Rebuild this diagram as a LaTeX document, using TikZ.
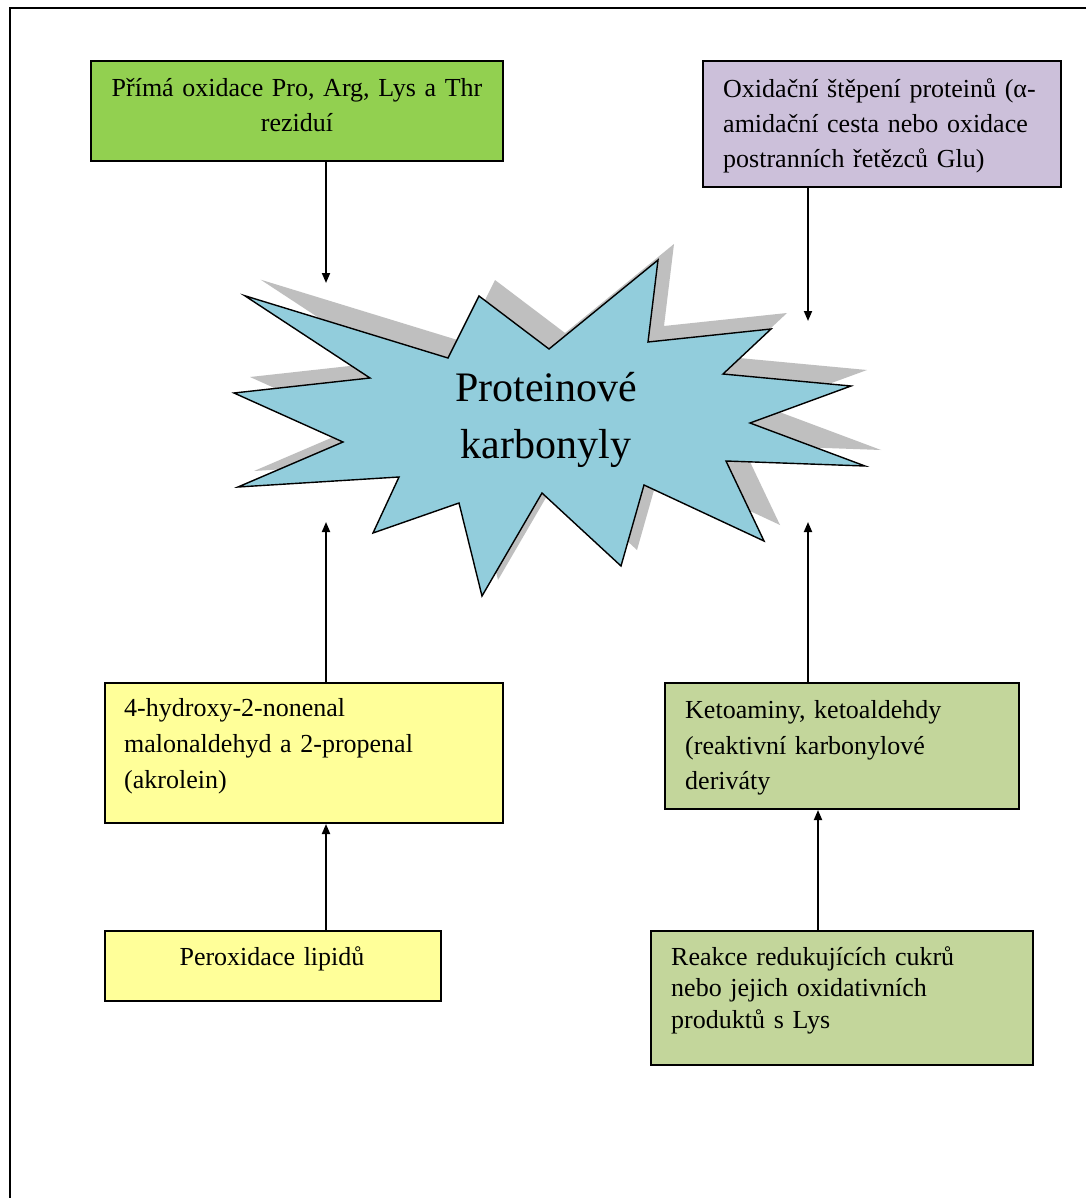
\documentclass[tikz,border=0pt]{standalone}
\usepackage{fontspec}
\setmainfont{Liberation Serif}
\usetikzlibrary{arrows.meta}
\definecolor{cA}{HTML}{92D050}
\definecolor{cB}{HTML}{CCC0DA}
\definecolor{cY}{HTML}{FFFF99}
\definecolor{cG}{HTML}{C3D69B}
\definecolor{cStar}{HTML}{92CDDC}
\definecolor{cShadow}{HTML}{BFBFBF}
\begin{document}
\begin{tikzpicture}[x=1pt,y=-1pt,
  box/.style={draw=black, line width=2pt, inner sep=0pt, anchor=north west},
  txt/.style={inner sep=0pt, font=\fontsize{26}{35}\selectfont},
  arr/.style={line width=1.8pt, -{Triangle[length=10pt,width=8pt]}},
  starpath/.style={line width=1.4pt}
]
\useasboundingbox (0,0) rectangle (1086,1198);
\fill[white] (0,0) rectangle (1086,1198);
% frame
\draw[line width=2pt] (1086,8) -- (10,8) -- (10,1198);

% star shadow and star
\def\starshape{(244.7,295.7) -- (448,358) -- (479,296) -- (549,349) -- (658,260) -- (648,342) -- (771,329) -- (723,374) -- (851,386) -- (750,423) -- (865,466) -- (726,461) -- (764,541) -- (644,485) -- (621,566) -- (542,493) -- (482,596) -- (459,503) -- (373,533) -- (399,477) -- (238,487) -- (343,442) -- (234,393) -- (370,378) -- cycle}
\fill[cShadow, shift={(16,-16)}] \starshape;
\filldraw[fill=cStar, draw=black, starpath, line join=miter] \starshape;
\node[inner sep=0pt, font=\fontsize{42}{57}\selectfont, align=center, text width=320pt, anchor=north] (startxt) at (546,361) {\strut Proteinové\\karbonyly};

% boxes
\node[box, fill=cA, minimum width=412pt, minimum height=100pt] (boxA) at (90,60) {};
\node[box, fill=cB, minimum width=358pt, minimum height=126pt] (boxB) at (702,60) {};
\node[box, fill=cY, minimum width=398pt, minimum height=140pt] (boxC) at (104,682) {};
\node[box, fill=cG, minimum width=354pt, minimum height=126pt] (boxD) at (664,682) {};
\node[box, fill=cY, minimum width=336pt, minimum height=70pt] (boxE) at (104,930) {};
\node[box, fill=cG, minimum width=382pt, minimum height=134pt] (boxF) at (650,930) {};

% texts
\node[txt, text width=400pt, align=center, anchor=north] (tA) at (297,71.5) {\strut Přímá oxidace Pro, Arg, Lys a Thr\\reziduí};
\node[txt, text width=330pt, align=left, anchor=north west] (tB) at (723,72.8) {\strut Oxidační štěpení proteinů (α-\\amidační cesta nebo oxidace\\postranních řetězců Glu)};
\node[txt, font=\fontsize{26}{36}\selectfont, text width=370pt, align=left, anchor=north west] (tC) at (124,691.5) {\strut 4-hydroxy-2-nonenal\\malonaldehyd a 2-propenal\\(akrolein)};
\node[txt, font=\fontsize{26}{35.5}\selectfont, text width=325pt, align=left, anchor=north west] (tD) at (685,693.5) {\strut Ketoaminy, ketoaldehdy\\(reaktivní karbonylové\\deriváty};
\node[txt, text width=320pt, align=center, anchor=north] (tE) at (272,940.5) {\strut Peroxidace lipidů};
\node[txt, font=\fontsize{26}{31.7}\selectfont, text width=350pt, align=left, anchor=north west] (tF) at (671,942.8) {\strut Reakce redukujících cukrů\\nebo jejich oxidativních\\produktů s Lys};

% arrow end points
\coordinate (tipA) at (326,283);
\coordinate (tipB) at (808,321);
\coordinate (tipC) at (326,522);
\coordinate (tipD) at (808,522);
\coordinate (xE) at (326,0);
\coordinate (xF) at (818,0);

\draw[arr] (tipA |- boxA.south) -- (tipA);
\draw[arr] (tipB |- boxB.south) -- (tipB);
\draw[arr] (tipC |- boxC.north) -- (tipC);
\draw[arr] (tipD |- boxD.north) -- (tipD);
\draw[arr] (xE |- boxE.north) -- (xE |- boxC.south);
\draw[arr] (xF |- boxF.north) -- (xF |- boxD.south);
\end{tikzpicture}
\end{document}
